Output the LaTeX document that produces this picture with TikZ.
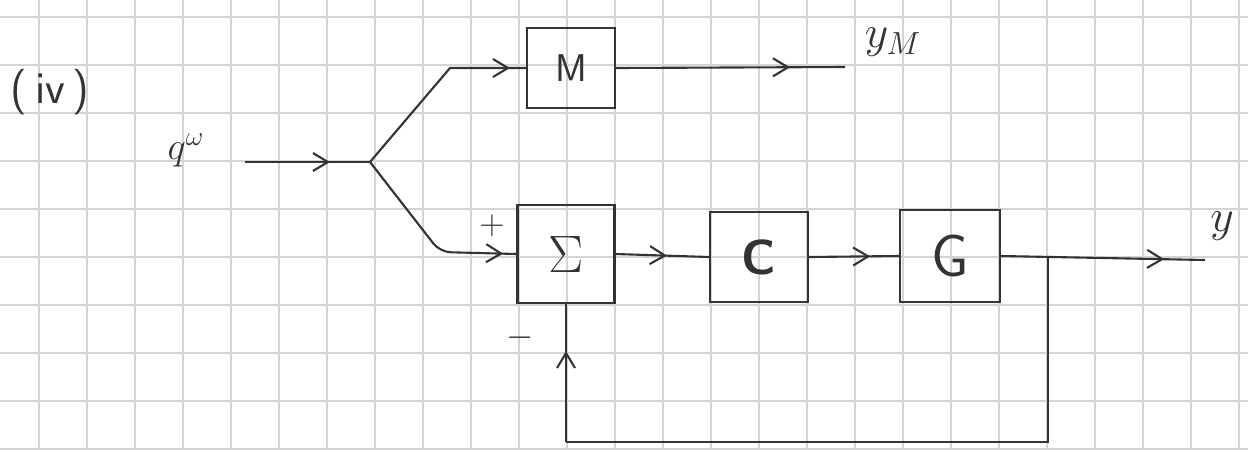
\RequirePackage{fix-cm}
\documentclass[tikz,border=0pt]{standalone}
\usetikzlibrary{arrows.meta,decorations.markings}
\tikzset{
  grille/.style={draw=black!17, line width=0.9pt},
  fil/.style={draw=black!80, line width=1.2pt},
  bloc/.style={fil, rectangle, inner sep=0pt, text=black!80, font=\sffamily\fontsize{30}{34}\selectfont},
  etiq/.style={text=black!80, font=\fontsize{26}{30}\selectfont},
  fleche/.style={postaction={decorate}, decoration={markings, mark=at position #1 with {\arrow{Straight Barb[length=3mm,width=3.6mm]}}}},
}
\begin{document}
\begin{tikzpicture}[x=0.2mm, y=-0.2mm]
  \useasboundingbox (0,0) rectangle (1248,449);
  % quadrillage
  \foreach \gx in {39,87,...,1239}
    \draw[grille] (\gx,0) -- (\gx,449);
  \foreach \gy in {17,65,...,449}
    \draw[grille] (0,\gy) -- (1248,\gy);

  % numero du cas
  \node[etiq, font=\sffamily\fontsize{26}{30}\selectfont] (num) at (50,92) {(\,iv\,)};

  % blocs
  \node[bloc, minimum width=17.6mm, minimum height=16mm, font=\sffamily\fontsize{22}{26}\selectfont] (M) at (571,68) {M};
  \node[bloc, minimum width=19.4mm, minimum height=19.6mm] (S) at (566,254) {$\Sigma$};
  \node[bloc, minimum width=19.6mm, minimum height=18mm, font=\sffamily\bfseries\fontsize{28}{32}\selectfont] (C) at (759,257) {C};
  \node[bloc, minimum width=20mm, minimum height=18.4mm, font=\sffamily\fontsize{34}{38}\selectfont] (G) at (950,256) {G};

  % etiquettes
  \node[etiq, font=\fontsize{22}{26}\selectfont] (lr) at (186,150) {$q^{\omega}$};
  \node[etiq] (lyM) at (893,42) {$y_M$};
  \node[etiq] (ly) at (1222,226) {$y$};
  \node[etiq, font=\fontsize{20}{24}\selectfont] (plus) at (492,226) {$+$};
  \node[etiq, font=\fontsize{20}{24}\selectfont] (moins) at (520,338) {$-$};

  % points de passage
  \coordinate (entree) at (245,162);
  \coordinate (split) at (370,162);
  \coordinate (coudeM) at (450,68);
  \coordinate (coudeS) at (440,252);
  \coordinate (sortieM) at (845,67);
  \coordinate (sortie) at (1205,260);
  \coordinate (piquage) at (1048,258);
  \coordinate (coinR) at (566,442);

  % liaisons
  \draw[fil, fleche=0.68] (entree) -- (split);
  \draw[fil, fleche=0.92] (split) -- (coudeM) -- (M.west);
  \draw[fil, rounded corners=6pt, fleche=0.93] (split) -- (coudeS) -- (S.west);
  \draw[fil, fleche=0.76] (M.east) -- (sortieM);
  \draw[fil, fleche=0.55] (S.east) -- (C.west);
  \draw[fil, fleche=0.68] (C.east) -- (G.west);
  \draw[fil, fleche=0.8] (G.east) -- (sortie);
  % boucle de retour
  \draw[fil] (piquage) |- (coinR);
  \draw[fil, fleche=0.66] (coinR) -- (S.south);
\end{tikzpicture}
\end{document}
